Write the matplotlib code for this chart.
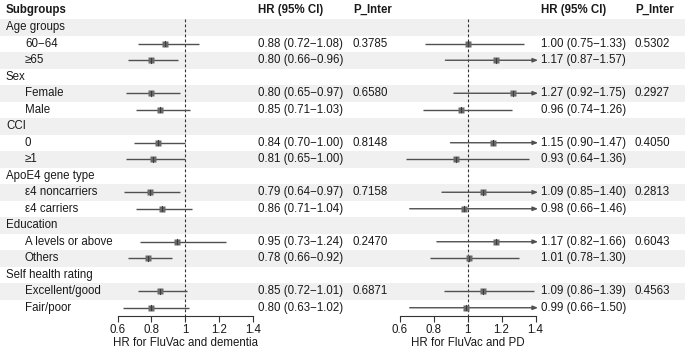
import matplotlib
matplotlib.use("Agg")
import matplotlib.pyplot as plt

plt.rcParams['font.family'] = ['Liberation Sans', 'DejaVu Sans']

groups = ["Age groups", "Sex", "CCI", "ApoE4 gene type", "Education", "Self health rating"]
subgroups = [["60−64", "≥65"], ["Female", "Male"], ["0", "≥1"],
             ["ε4 noncarriers", "ε4 carriers"], ["A levels or above", "Others"],
             ["Excellent/good", "Fair/poor"]]

dem_hr = [0.88, 0.80, 0.80, 0.85, 0.84, 0.81, 0.79, 0.86, 0.95, 0.78, 0.85, 0.80]
dem_lo = [0.72, 0.66, 0.65, 0.71, 0.70, 0.65, 0.64, 0.71, 0.73, 0.66, 0.72, 0.63]
dem_hi = [1.08, 0.96, 0.97, 1.03, 1.00, 1.00, 0.97, 1.04, 1.24, 0.92, 1.01, 1.02]
dem_p = ["0.3785", "0.6580", "0.8148", "0.7158", "0.2470", "0.6871"]

pd_hr = [1.00, 1.17, 1.27, 0.96, 1.15, 0.93, 1.09, 0.98, 1.17, 1.01, 1.09, 0.99]
pd_lo = [0.75, 0.87, 0.92, 0.74, 0.90, 0.64, 0.85, 0.66, 0.82, 0.78, 0.86, 0.66]
pd_hi = [1.33, 1.57, 1.75, 1.26, 1.47, 1.36, 1.40, 1.46, 1.66, 1.30, 1.39, 1.50]
pd_p = ["0.5302", "0.2927", "0.4050", "0.2813", "0.6043", "0.4563"]

xticks = [0.6, 0.8, 1, 1.2, 1.4]
xticklabels = ["0.6", "0.8", "1", "1.2", "1.4"]
xlim = (0.6, 1.4)

W, H = 685, 351
FS = 8.3
TXT = "#1a1a1a"
LINE = "#505050"
BOX = "#6a6a6a"
SHADE = "#f0f0f0"

fig = plt.figure(figsize=(W / 100, H / 100), dpi=100)
bg = fig.add_axes([0, 0, 1, 1])
bg.set_xlim(0, W)
bg.set_ylim(H, 0)
bg.axis("off")

top = 19.0
rh = 16.5
nrows = 18

def yc(i):
    return top + (i + 0.5) * rh

for i in range(nrows):
    if i % 2 == 0:
        bg.axhspan(top + i * rh, top + (i + 1) * rh, color=SHADE, lw=0, zorder=0)

# headers
hy = 10
bg.text(6, hy, "Subgroups", fontsize=FS, fontweight="bold", va="center", color=TXT)
for x0 in (258, 541):
    bg.text(x0, hy, "HR (95% CI)", fontsize=FS, fontweight="bold", va="center", color=TXT)
for x0 in (353, 635):
    bg.text(x0, hy, "P_Inter", fontsize=FS, fontweight="bold", va="center", color=TXT)

def fmt(h, l, u):
    return f"{h:.2f} ({l:.2f}−{u:.2f})"

row = 0
k = 0
row_of = []
for gi, (g, subs) in enumerate(zip(groups, subgroups)):
    bg.text(6, yc(row), g, fontsize=FS, va="center", color=TXT)
    row += 1
    for j, s in enumerate(subs):
        bg.text(25, yc(row), s, fontsize=FS, va="center", color=TXT)
        bg.text(258, yc(row), fmt(dem_hr[k], dem_lo[k], dem_hi[k]), fontsize=FS, va="center", color=TXT)
        bg.text(541, yc(row), fmt(pd_hr[k], pd_lo[k], pd_hi[k]), fontsize=FS, va="center", color=TXT)
        if j == 0:
            bg.text(353, yc(row), dem_p[gi], fontsize=FS, va="center", color=TXT)
            bg.text(635, yc(row), pd_p[gi], fontsize=FS, va="center", color=TXT)
        row_of.append(row)
        row += 1
        k += 1

def forest(x_left, x_right, hr, lo, hi, label, msize):
    ax = fig.add_axes([x_left / W, (H - (top + nrows * rh)) / H,
                       (x_right - x_left) / W, nrows * rh / H])
    ax.patch.set_alpha(0)
    ax.set_xlim(*xlim)
    ax.set_ylim(nrows, 0)
    for sp in ("top", "right", "left"):
        ax.spines[sp].set_visible(False)
    ax.spines["bottom"].set_color("#333333")
    ax.spines["bottom"].set_linewidth(0.8)
    ax.set_yticks([])
    ax.set_xticks(xticks)
    ax.set_xticklabels(xticklabels, fontsize=FS, color=TXT)
    ax.tick_params(axis="x", length=4, width=0.8, color="#333333", pad=1.5)
    ax.set_xlabel(label, fontsize=FS, color=TXT, labelpad=1)
    ax.plot([1, 1], [0, nrows], ls=(0, (2.5, 2)), color="#333333", lw=0.8, clip_on=False)
    for i in range(len(hr)):
        y = row_of[i] + 0.5
        l = max(lo[i], xlim[0])
        if hi[i] >= xlim[1]:
            ax.annotate("", xy=(xlim[1] + 0.015, y), xytext=(l, y),
                        arrowprops=dict(arrowstyle="-|>,head_length=0.3,head_width=0.12",
                                        color=LINE, lw=1, shrinkA=0, shrinkB=0),
                        annotation_clip=False)
        else:
            ax.plot([l, hi[i]], [y, y], color=LINE, lw=1, solid_capstyle="butt")
        ax.plot([hr[i]], [y], marker="s", ms=msize, color=BOX, mec="none", zorder=3)
        ax.plot([hr[i], hr[i]], [y - 0.15, y + 0.15], color="#3a3a3a", lw=0.8, zorder=4)
    return ax

forest(117.5, 253, dem_hr, dem_lo, dem_hi, "HR for FluVac and dementia", 5.0)
forest(399.5, 535.5, pd_hr, pd_lo, pd_hi, "HR for FluVac and PD", 4.3)

fig.savefig("out.png", dpi=100)
